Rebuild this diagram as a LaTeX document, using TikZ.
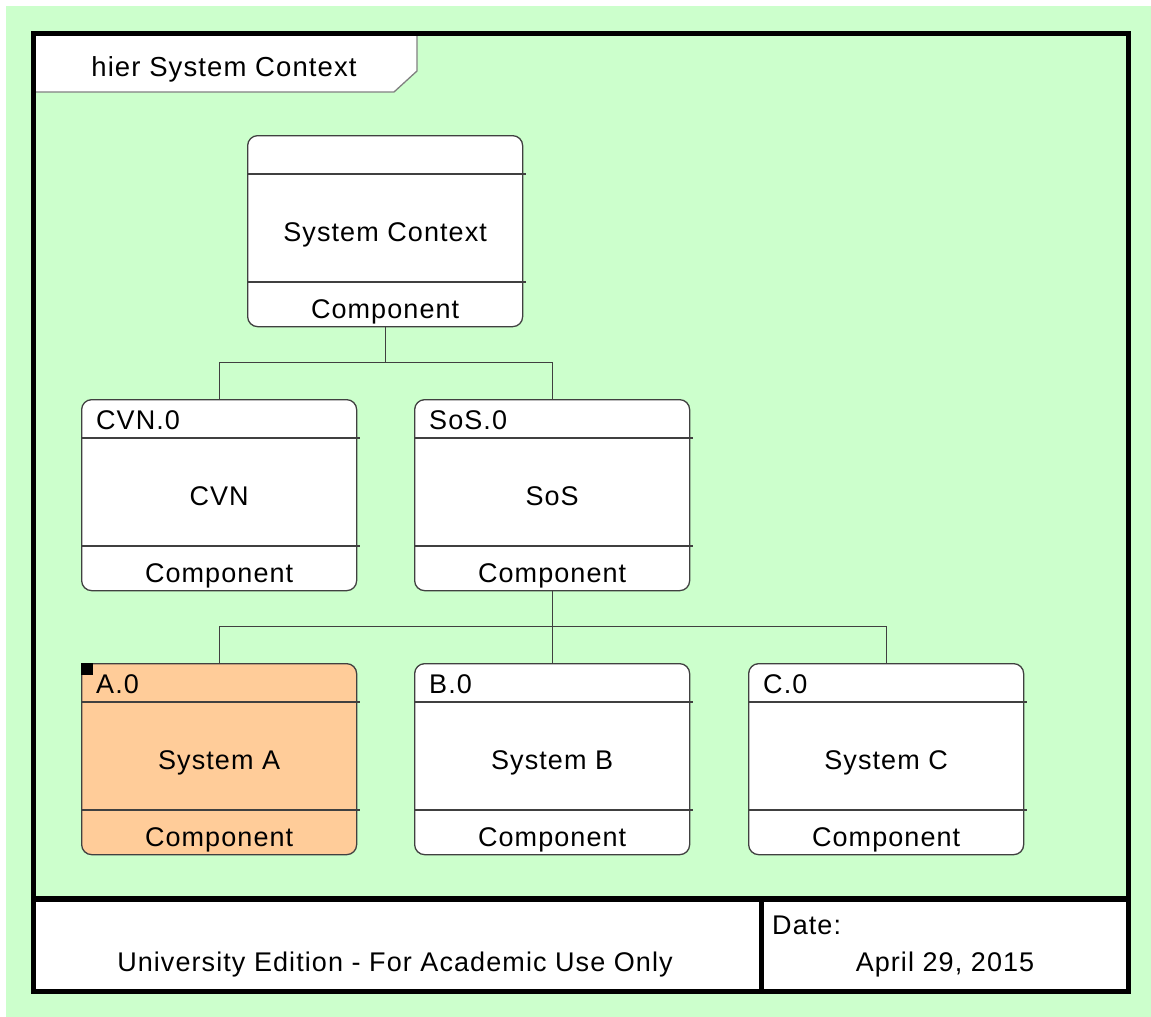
\documentclass[tikz,border=0pt]{standalone}
\usepackage{fontspec}
\setmainfont{Liberation Sans}[LetterSpace=4]
\definecolor{bggreen}{HTML}{CCFFCC}
\definecolor{compor}{HTML}{FFCC99}
\definecolor{lgray}{HTML}{404040}
\newcommand\compbox[6]{% name, left, top, fill, header, title
  \node[cbox, fill=#4, anchor=north west] (#1) at (#2,#3) {};
  \draw[sepline] ([yshift=-39pt]#1.north west) -- ++(279,0);
  \draw[sepline] ([yshift=-147pt]#1.north west) -- ++(279,0);
  \node[txt, anchor=base west] (#1-h) at ([xshift=15pt,yshift=-30pt]#1.north west) {#5};
  \node[txt, anchor=base] (#1-t) at ([yshift=-106pt]#1.north) {#6};
  \node[txt, anchor=base] (#1-c) at ([yshift=-183pt]#1.north) {Component};
}
\begin{document}
\begin{tikzpicture}[x=1pt,y=-1pt,
  cbox/.style={draw=lgray, line width=1.3pt, rounded corners=10pt, minimum width=275pt, minimum height=191pt, inner sep=0pt},
  sepline/.style={draw=lgray, line width=1.2pt},
  txt/.style={inner sep=0pt, font=\fontsize{27}{32}\selectfont},
  conn/.style={draw=lgray, line width=1.3pt}]
\useasboundingbox (0,0) rectangle (1151,1017);
\fill[white] (0,0) rectangle (1151,1017);
\fill[bggreen] (6,6) rectangle (1151,1017);
% footer area
\fill[white] (33,899) rectangle (1128,991);
% title tab
\draw[draw=gray, line width=1.3pt, fill=white] (34,34) -- (417,34) -- (417,71) -- (394,92) -- (34,92) -- cycle;
\node[txt, anchor=base, font=\fontsize{27.5}{32}\selectfont] (title) at (224,76) {hier System Context};
% frame
\draw[line width=5pt] (33.5,33.5) rectangle (1128.5,991.5);
\draw[line width=6pt] (33,899) -- (1128,899);
\draw[line width=5pt] (761,899) -- (761,991);
% footer texts
\node[txt, anchor=base] (edition) at (395,971) {University Edition - For Academic Use Only};
\node[txt, anchor=base west] (date) at (772,934) {Date:};
\node[txt, anchor=base] (datev) at (945,971) {April 29, 2015};
% components
\compbox{ctx}{247}{135}{white}{}{System Context}
\compbox{cvn}{81}{399}{white}{CVN.0}{CVN}
\compbox{sos}{414}{399}{white}{SoS.0}{SoS}
\compbox{sa}{81}{663}{compor}{A.0}{System A}
\compbox{sb}{414}{663}{white}{B.0}{System B}
\compbox{sc}{748}{663}{white}{C.0}{System C}
\fill[black] (sa.north west) rectangle ++(12,12);
% connectors
\coordinate (j1) at (ctx.south |- 0,362.5);
\coordinate (j2) at (sos.south |- 0,626.5);
\draw[conn] (ctx.south) -- (j1);
\draw[conn] (cvn.north) |- (j1) -| (sos.north);
\draw[conn] (sos.south) -- (j2);
\draw[conn] (sa.north) |- (j2) -| (sc.north);
\draw[conn] (j2) -- (sb.north);
\end{tikzpicture}
\end{document}
